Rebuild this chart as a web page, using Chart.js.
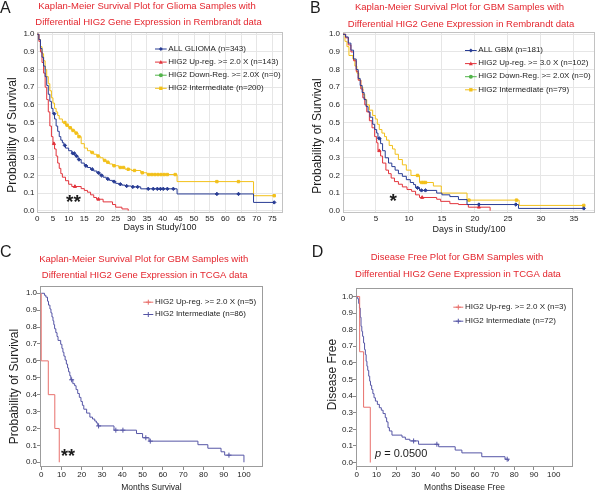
<!DOCTYPE html>
<html>
<head>
<meta charset="utf-8">
<script src="https://cdn.jsdelivr.net/npm/chart.js@4.4.1/dist/chart.umd.min.js"></script>
<style>
  html, body { margin: 0; padding: 0; background: #fff; }
  #fig { position: relative; width: 600px; height: 496px; overflow: hidden; }
  canvas { position: absolute; }
</style>
</head>
<body>
<div id="fig">
  <canvas id="panelA" width="300" height="245" style="left:0;top:0"></canvas>
  <canvas id="panelB" width="300" height="245" style="left:300px;top:0"></canvas>
  <canvas id="panelC" width="300" height="256" style="left:0;top:240px"></canvas>
  <canvas id="panelD" width="300" height="256" style="left:300px;top:240px"></canvas>
</div>
<script>
// ---- data ----
const survTicks = [0, 0.1, 0.2, 0.3, 0.4, 0.5, 0.6, 0.7, 0.8, 0.9, 1.0];
const aDayTicks = [0, 5, 10, 15, 20, 25, 30, 35, 40, 45, 50, 55, 60, 65, 70, 75];
const bDayTicks = [0, 5, 10, 15, 20, 25, 30, 35];
const monthTicks = [0, 10, 20, 30, 40, 50, 60, 70, 80, 90, 100];

// A: glioma, Rembrandt (a point that does not drop is a censored case)
const aAllDays = [0, 0.5, 1, 1.5, 2, 2.5, 3, 3.5, 4, 4.5, 5, 5.4, 5.5, 6, 6.5, 7, 7.5, 8, 8.5, 8.8,
  9, 10, 11, 11.3, 11.8, 12, 12.5, 13, 13.3, 14, 15, 15.5, 16, 17, 17.5, 18, 19, 19.5, 20, 20.5,
  21, 22, 22.5, 23, 24, 24.5, 25, 26, 26.5, 27, 28, 28.5, 30, 30.5, 32, 33, 35.4, 37, 38.3, 39.3,
  40.2, 41.5, 43.4, 44.6, 57.3, 64.2, 69, 75.6];
const aAllSurv = [1, 0.97, 0.92, 0.87, 0.82, 0.76, 0.71, 0.66, 0.62, 0.58, 0.55, 0.55, 0.52, 0.48, 0.45, 0.42, 0.40, 0.385, 0.37, 0.37,
  0.355, 0.34, 0.325, 0.325, 0.325, 0.31, 0.31, 0.29, 0.29, 0.27, 0.255, 0.255, 0.245, 0.235, 0.235, 0.225, 0.215, 0.215, 0.2, 0.2,
  0.19, 0.18, 0.18, 0.172, 0.165, 0.165, 0.155, 0.15, 0.15, 0.145, 0.14, 0.14, 0.135, 0.135, 0.135, 0.124, 0.124, 0.124, 0.124, 0.124,
  0.124, 0.124, 0.124, 0.095, 0.095, 0.095, 0.047, 0.047];
const aUpDays = [0, 0.5, 1, 1.5, 2, 2.5, 3, 3.5, 4, 4.5, 5, 5.3, 5.5, 6, 6.5, 7, 7.5, 8, 9, 10,
  11, 12, 14, 15, 16, 17, 18, 18.9, 19.5, 21, 24, 25, 27, 29];
const aUpSurv = [1, 0.96, 0.9, 0.84, 0.78, 0.7, 0.63, 0.56, 0.48, 0.42, 0.38, 0.38, 0.35, 0.31, 0.27, 0.24, 0.21, 0.19, 0.17, 0.15,
  0.137, 0.137, 0.125, 0.115, 0.105, 0.09, 0.075, 0.065, 0.065, 0.05, 0.035, 0.02, 0.01, 0];
const aMidDays = [0, 0.5, 1, 1.5, 2, 2.5, 3, 3.5, 4, 4.5, 5, 5.5, 6, 6.5, 7, 8, 8.8, 9, 9.5, 10,
  10.5, 11, 11.4, 12, 12.4, 13, 13.3, 14, 15, 16, 17, 17.5, 18, 19, 19.4, 20, 21, 21.5, 22, 22.5,
  23, 24, 24.5, 26, 26.5, 27.5, 28, 29, 30, 31, 33, 33.5, 35, 35.5, 36.5, 37.5, 38.5, 39.5, 40.5, 41.5,
  44, 44.6, 57.3, 64.2, 69, 75.6];
const aMidSurv = [1, 0.97, 0.93, 0.89, 0.85, 0.8, 0.76, 0.72, 0.68, 0.64, 0.61, 0.58, 0.56, 0.54, 0.52, 0.5, 0.5, 0.485, 0.485, 0.47,
  0.47, 0.455, 0.455, 0.44, 0.44, 0.42, 0.42, 0.38, 0.355, 0.34, 0.33, 0.33, 0.32, 0.31, 0.31, 0.3, 0.285, 0.285, 0.275, 0.275,
  0.265, 0.255, 0.255, 0.245, 0.245, 0.245, 0.235, 0.235, 0.228, 0.228, 0.215, 0.215, 0.205, 0.205, 0.205, 0.205, 0.205, 0.205, 0.205, 0.205,
  0.205, 0.165, 0.165, 0.165, 0.085, 0.085];

// B: GBM, Rembrandt
const bAllDays = [0, 0.4, 0.8, 1.2, 1.6, 2, 2.3, 2.6, 2.9, 3.2, 3.5, 3.8, 4.1, 4.5, 4.8, 5.1, 5.3, 5.5, 5.7, 6,
  6.4, 6.9, 7.4, 7.9, 8.4, 9, 9.6, 10.2, 10.7, 11, 11.3, 11.6, 11.9, 12.5, 14.2, 15, 16.2, 17.5, 18.8, 20.6,
  26.2, 26.6, 36.5];
const bAllSurv = [1, 0.985, 0.95, 0.91, 0.86, 0.8, 0.75, 0.71, 0.67, 0.63, 0.59, 0.56, 0.53, 0.49, 0.46, 0.44, 0.41, 0.41, 0.38, 0.34,
  0.3, 0.27, 0.25, 0.23, 0.21, 0.195, 0.176, 0.16, 0.148, 0.13, 0.13, 0.115, 0.115, 0.115, 0.1, 0.09, 0.08, 0.063, 0.035, 0.035,
  0.035, 0.013, 0.013];
const bUpDays = [0, 0.4, 0.8, 1.2, 1.6, 2, 2.3, 2.7, 3, 3.3, 3.6, 4, 4.4, 4.8, 5.1, 5.3, 5.5, 5.7, 6, 6.5,
  6.9, 7.3, 7.8, 8.4, 9, 9.7, 10.4, 11, 11.6, 12, 14.2, 14.8, 16.2, 17.5, 19, 20.6, 22.3];
const bUpSurv = [1, 0.98, 0.94, 0.9, 0.85, 0.79, 0.74, 0.69, 0.64, 0.6, 0.56, 0.51, 0.47, 0.42, 0.385, 0.34, 0.34, 0.31, 0.27, 0.23,
  0.21, 0.185, 0.165, 0.15, 0.135, 0.12, 0.11, 0.09, 0.075, 0.075, 0.065, 0.053, 0.04, 0.035, 0.02, 0.02, 0];
const bMidDays = [0, 0.3, 0.6, 0.9, 1.5, 1.8, 2.1, 2.4, 2.7, 3, 3.3, 3.6, 4, 4.5, 4.9, 5.2, 5.5, 5.9, 6.3, 6.6,
  7, 7.5, 7.9, 8.4, 9, 9.6, 10.3, 11.3, 11.6, 11.9, 12.2, 12.5, 13.7, 14.9, 18.8, 19.1, 26.3, 26.7, 36.5];
const bMidSurv = [1, 0.96, 0.93, 0.88, 0.86, 0.82, 0.78, 0.74, 0.7, 0.66, 0.63, 0.6, 0.57, 0.54, 0.52, 0.49, 0.46, 0.44, 0.42, 0.4,
  0.37, 0.35, 0.32, 0.29, 0.26, 0.23, 0.2, 0.2, 0.16, 0.16, 0.16, 0.16, 0.14, 0.1, 0.06, 0.06, 0.06, 0.03, 0.03];

// C: GBM overall survival, TCGA
const cUpMonths = [0, 0, 3.5, 6.7, 8.9];
const cUpSurv = [1, 0.6, 0.4, 0.2, 0];
const cMidMonths = [0, 1.6, 2.3, 3.1, 3.6, 4.3, 4.8, 5.3, 5.8, 6.2, 6.6, 7.2, 7.8, 8.3, 9.6, 10.2, 10.7, 11.2, 11.8, 12.4,
  13, 13.5, 14.1, 14.6, 15, 15.6, 16.5, 17.2, 18, 18.8, 19.6, 20.3, 21, 22.4, 24, 25.3, 26.4, 27.2, 27.9, 28.3,
  35.9, 36.8, 40.3, 47, 50, 51.6, 53.2, 53.8, 77.3, 82.2, 88.7, 90.5, 92.6, 100];
const cMidSurv = [1, 0.988, 0.977, 0.953, 0.93, 0.907, 0.884, 0.86, 0.837, 0.814, 0.79, 0.767, 0.744, 0.721, 0.698, 0.674, 0.651, 0.628, 0.605, 0.581,
  0.558, 0.535, 0.512, 0.488, 0.488, 0.465, 0.453, 0.43, 0.407, 0.384, 0.36, 0.337, 0.314, 0.291, 0.267, 0.256, 0.244, 0.233, 0.215, 0.215,
  0.19, 0.19, 0.19, 0.17, 0.145, 0.145, 0.125, 0.125, 0.104, 0.083, 0.062, 0.042, 0.042, 0];

// D: GBM disease free, TCGA
const dUpMonths = [0, 1.5, 3.5, 6.9];
const dUpSurv = [1, 0.667, 0.333, 0];
const dMidMonths = [0, 0.5, 1, 1.4, 1.8, 2.2, 2.6, 3, 3.5, 4, 4.4, 4.8, 5.2, 5.6, 6.1, 6.6, 7, 7.6, 8.2, 8.8,
  9.5, 10.5, 11.5, 12.5, 13.4, 14.5, 15.2, 15.9, 16.6, 17.9, 23, 24.7, 27, 28.9, 31.4, 40.7, 41.6, 50, 53.4, 63.5,
  75.3, 76.4, 77];
const dMidSurv = [1, 0.986, 0.958, 0.93, 0.875, 0.82, 0.79, 0.76, 0.72, 0.68, 0.65, 0.61, 0.58, 0.555, 0.52, 0.49, 0.465, 0.44, 0.415, 0.39,
  0.37, 0.35, 0.33, 0.315, 0.295, 0.27, 0.245, 0.21, 0.19, 0.165, 0.153, 0.14, 0.13, 0.13, 0.11, 0.11, 0.095, 0.075, 0.058, 0.035,
  0.02, 0.02, 0.008];

const titleA = ['Kaplan-Meier Survival Plot for Glioma Samples with', 'Differential HIG2 Gene Expression in Rembrandt data'];
const titleB = ['Kaplan-Meier Survival Plot for GBM Samples with', 'Differential HIG2 Gene Expression in Rembrandt data'];
const titleC = ['Kaplan-Meier Survival Plot for GBM Samples with', 'Differential HIG2 Gene Expression in TCGA data'];
const titleD = ['Disease Free Plot for GBM Samples with', 'Differential HIG2 Gene Expression in TCGA data'];

// ---- styling ----
const FONT = '"Liberation Sans", Arial, Helvetica, sans-serif';
const INK = '#1c1c1c';
const TITLE_RED = '#e4262e';
const BLUE = '#283c94', RED = '#e2343c', GREEN = '#52b44a', YELLOW = '#f2c01a';
const TCGA_BLUE = '#5656a6', TCGA_RED = '#e8706c';

Chart.defaults.font.family = FONT;

function kmSeries(label, times, surv, color, style, r) {
  return {
    label,
    data: times.map((t, i) => ({x: t, y: surv[i]})),
    borderColor: color,
    backgroundColor: color,
    borderWidth: 1,
    stepped: 'before',
    fill: false,
    pointStyle: style,
    pointBackgroundColor: color,
    pointBorderColor: color,
    pointBorderWidth: 1,
    markRadius: r,
    pointRadius: (c) => {
      const d = c.dataset.data, i = c.dataIndex;
      return i > 0 && d[i].y === d[i - 1].y ? r : 0;
    },
    pointHoverRadius: 0
  };
}

function drawMark(ctx, style, x, y, r, color) {
  ctx.fillStyle = color;
  ctx.strokeStyle = color;
  ctx.beginPath();
  if (style === 'rectRot') {
    ctx.moveTo(x, y - r); ctx.lineTo(x + r, y); ctx.lineTo(x, y + r); ctx.lineTo(x - r, y);
    ctx.closePath(); ctx.fill();
  } else if (style === 'triangle') {
    ctx.moveTo(x, y - r); ctx.lineTo(x + r, y + r * 0.8); ctx.lineTo(x - r, y + r * 0.8);
    ctx.closePath(); ctx.fill();
  } else if (style === 'rect') {
    ctx.fillRect(x - r * 0.85, y - r * 0.85, r * 1.7, r * 1.7);
  } else if (style === 'circle') {
    ctx.arc(x, y, r, 0, Math.PI * 2); ctx.fill();
  } else if (style === 'cross') {
    ctx.moveTo(x - r, y); ctx.lineTo(x + r, y); ctx.moveTo(x, y - r); ctx.lineTo(x, y + r);
    ctx.stroke();
  }
}

function framePlugin(color) {
  return {
    id: 'frame',
    beforeDatasetsDraw(chart) {
      const {ctx, chartArea: a} = chart;
      ctx.save();
      ctx.strokeStyle = color;
      ctx.lineWidth = 1;
      ctx.strokeRect(Math.round(a.left) + 0.5, Math.round(a.top) + 0.5, Math.round(a.width) - 1, Math.round(a.height) - 1);
      ctx.restore();
    }
  };
}

function keyPlugin(k) {
  return {
    id: 'key',
    afterDatasetsDraw(chart) {
      const ctx = chart.ctx;
      ctx.save();
      ctx.font = '8px ' + FONT;
      ctx.textBaseline = 'middle';
      ctx.textAlign = 'left';
      chart.data.datasets.forEach((ds, i) => {
        const y = k.y + i * k.dy;
        ctx.strokeStyle = ds.borderColor;
        ctx.lineWidth = 1;
        ctx.beginPath();
        ctx.moveTo(k.x1, y + 0.5);
        ctx.lineTo(k.x2, y + 0.5);
        ctx.stroke();
        drawMark(ctx, ds.pointStyle, (k.x1 + k.x2) / 2, y + 0.5, k.r, ds.borderColor);
        ctx.fillStyle = INK;
        ctx.fillText(ds.label, k.x2 + k.gap, y);
      });
      ctx.restore();
    }
  };
}

function notesPlugin(items) {
  return {
    id: 'notes',
    afterDraw(chart) {
      const ctx = chart.ctx;
      items.forEach(n => {
        ctx.save();
        ctx.translate(n.x, n.y);
        if (n.rotate) ctx.rotate(n.rotate * Math.PI / 180);
        ctx.textAlign = n.parts ? 'left' : (n.align || 'center');
        ctx.textBaseline = n.baseline || 'middle';
        ctx.fillStyle = n.color || INK;
        let x = 0;
        (n.parts || [{text: n.text, style: n.style}]).forEach(p => {
          ctx.font = (p.style || '') + ' ' + n.size + 'px ' + FONT;
          ctx.fillText(p.text, x, 0);
          x += ctx.measureText(p.text).width;
        });
        ctx.restore();
      });
    }
  };
}

function titleNotes(lines, pos) {
  return lines.map((t, i) => ({text: t, x: pos[i][0], y: pos[i][1], size: 9.5, color: TITLE_RED}));
}

function makePanel(id, p) {
  const canvas = document.getElementById(id);
  const W = canvas.width, H = canvas.height, a = p.area;
  return new Chart(canvas, {
    type: 'line',
    data: {datasets: p.datasets},
    options: {
      responsive: false,
      animation: false,
      devicePixelRatio: 1,
      events: [],
      layout: {padding: {left: 0, top: a.top, right: W - a.right, bottom: 0}},
      plugins: {legend: {display: false}, tooltip: {enabled: false}},
      scales: {
        x: {
          type: 'linear',
          bounds: 'data',
          min: p.xMin, max: p.xMax,
          afterBuildTicks: s => { s.ticks = p.xTicks.map(v => ({value: v})); },
          afterFit: s => { s.height = H - a.bottom; },
          ticks: {font: {size: 8}, color: INK, padding: p.xPad, autoSkip: false, maxRotation: 0,
                  callback: v => String(v)},
          grid: {drawOnChartArea: p.grid, drawTicks: p.tick > 0, tickLength: p.tick,
                 color: '#e6e6e6', tickColor: '#8a8a8a'},
          border: {display: false},
          title: {display: true, text: p.xTitle, color: INK, font: {size: p.xTitleSize},
                  padding: {top: 0, bottom: p.xTitlePad}}
        },
        y: {
          type: 'linear',
          bounds: 'data',
          min: p.yMin, max: p.yMax,
          afterBuildTicks: s => { s.ticks = survTicks.map(v => ({value: v})); },
          afterFit: s => { s.width = a.left; },
          ticks: {font: {size: 8}, color: INK, padding: p.yPad, autoSkip: false,
                  callback: v => v.toFixed(1)},
          grid: {drawOnChartArea: p.grid, drawTicks: p.tick > 0, tickLength: p.tick,
                 color: '#e6e6e6', tickColor: '#8a8a8a'},
          border: {display: false}
        }
      }
    },
    plugins: [framePlugin(p.frame), keyPlugin(p.key), notesPlugin(p.notes)]
  });
}

// ---- panel A ----
makePanel('panelA', {
  area: {left: 37, top: 32, right: 283, bottom: 213},
  xMin: -0.1, xMax: 78.4, yMin: -0.013, yMax: 1.013, xTicks: aDayTicks,
  grid: true, tick: 0, xPad: 1, yPad: 2.5, frame: '#c2c2c2',
  xTitle: 'Days in Study/100', xTitleSize: 9, xTitlePad: 11.9,
  datasets: [
    kmSeries('ALL GLIOMA (n=343)', aAllDays, aAllSurv, BLUE, 'rectRot', 1.7),
    kmSeries('HIG2 Up-reg. >= 2.0 X (n=143)', aUpDays, aUpSurv, RED, 'triangle', 1.8),
    kmSeries('HIG2 Down-Reg. >= 2.0X (n=0)', [], [], GREEN, 'circle', 1.6),
    kmSeries('HIG2 Intermediate (n=200)', aMidDays, aMidSurv, YELLOW, 'rect', 1.7)
  ],
  key: {x1: 155, x2: 166.7, gap: 1.6, y: 48.5, dy: 13.1, r: 2},
  notes: [
    {text: 'A', x: 0, y: 13.3, size: 16, align: 'left', baseline: 'alphabetic'},
    ...titleNotes(titleA, [[147, 6], [148.5, 22.3]]),
    {text: 'Probability of Survival', x: 13, y: 135, size: 12, rotate: -90},
    {text: '**', x: 66, y: 208, size: 19, style: 'bold', align: 'left', baseline: 'alphabetic'}
  ]
});

// ---- panel B ----
makePanel('panelB', {
  area: {left: 43, top: 32, right: 295, bottom: 213},
  xMin: 0, xMax: 38.2, yMin: -0.013, yMax: 1.013, xTicks: bDayTicks,
  grid: true, tick: 0, xPad: 1, yPad: 3, frame: '#c2c2c2',
  xTitle: 'Days in Study/100', xTitleSize: 9, xTitlePad: 10.3,
  datasets: [
    kmSeries('ALL GBM (n=181)', bAllDays, bAllSurv, BLUE, 'rectRot', 1.7),
    kmSeries('HIG2 Up-reg. >= 3.0 X (n=102)', bUpDays, bUpSurv, RED, 'triangle', 1.8),
    kmSeries('HIG2 Down-Reg. >= 2.0X (n=0)', [], [], GREEN, 'circle', 1.6),
    kmSeries('HIG2 Intermediate (n=79)', bMidDays, bMidSurv, YELLOW, 'rect', 1.7)
  ],
  key: {x1: 165, x2: 176.7, gap: 1.6, y: 50, dy: 13.1, r: 2},
  notes: [
    {text: 'B', x: 10, y: 13.3, size: 16, align: 'left', baseline: 'alphabetic'},
    ...titleNotes(titleB, [[159.5, 7], [161, 24.3]]),
    {text: 'Probability of Survival', x: 18, y: 136, size: 12, rotate: -90},
    {text: '*', x: 89.6, y: 206.5, size: 19, style: 'bold', align: 'left', baseline: 'alphabetic'}
  ]
});

// ---- panel C ----
makePanel('panelC', {
  area: {left: 40, top: 46, right: 263, bottom: 227},
  xMin: -0.6, xMax: 109.4, yMin: -0.028, yMax: 1.043, xTicks: monthTicks,
  grid: false, tick: 3, xPad: 0, yPad: 0, frame: '#9c9c9c',
  xTitle: 'Months Survival', xTitleSize: 8.5, xTitlePad: 3.6,
  datasets: [
    kmSeries('HIG2 Up-reg. >= 2.0 X (n=5)', cUpMonths, cUpSurv, TCGA_RED, 'cross', 2.5),
    kmSeries('HIG2 Intermediate (n=86)', cMidMonths, cMidSurv, TCGA_BLUE, 'cross', 2.5)
  ],
  key: {x1: 143.3, x2: 153.3, gap: 1.7, y: 61.7, dy: 12.3, r: 2.5},
  notes: [
    {text: 'C', x: 0, y: 17.4, size: 16, align: 'left', baseline: 'alphabetic'},
    ...titleNotes(titleC, [[143.7, 19], [144.7, 35]]),
    {text: 'Probability of Survival', x: 15, y: 146.5, size: 12, rotate: -90},
    {text: '**', x: 61, y: 222.4, size: 18, style: 'bold', align: 'left', baseline: 'alphabetic'}
  ]
});

// ---- panel D ----
makePanel('panelD', {
  area: {left: 56, top: 48, right: 273, bottom: 227},
  xMin: -0.35, xMax: 109.8, yMin: -0.027, yMax: 1.051, xTicks: monthTicks,
  grid: false, tick: 3, xPad: 0, yPad: 0, frame: '#9c9c9c',
  xTitle: 'Months Disease Free', xTitleSize: 8.5, xTitlePad: 3.6,
  datasets: [
    kmSeries('HIG2 Up-reg. >= 2.0 X (n=3)', dUpMonths, dUpSurv, TCGA_RED, 'cross', 2.5),
    kmSeries('HIG2 Intermediate (n=72)', dMidMonths, dMidSurv, TCGA_BLUE, 'cross', 2.5)
  ],
  key: {x1: 153.3, x2: 163.3, gap: 1.7, y: 66.7, dy: 14, r: 2.5},
  notes: [
    {text: 'D', x: 11.7, y: 17.4, size: 16, align: 'left', baseline: 'alphabetic'},
    ...titleNotes(titleD, [[157, 17.3], [158, 34.3]]),
    {text: 'Disease Free', x: 32.3, y: 134.5, size: 12, rotate: -90},
    {x: 75, y: 214, size: 11, parts: [{text: 'p', style: 'italic'}, {text: ' = 0.0500'}]}
  ]
});
</script>
</body>
</html>
